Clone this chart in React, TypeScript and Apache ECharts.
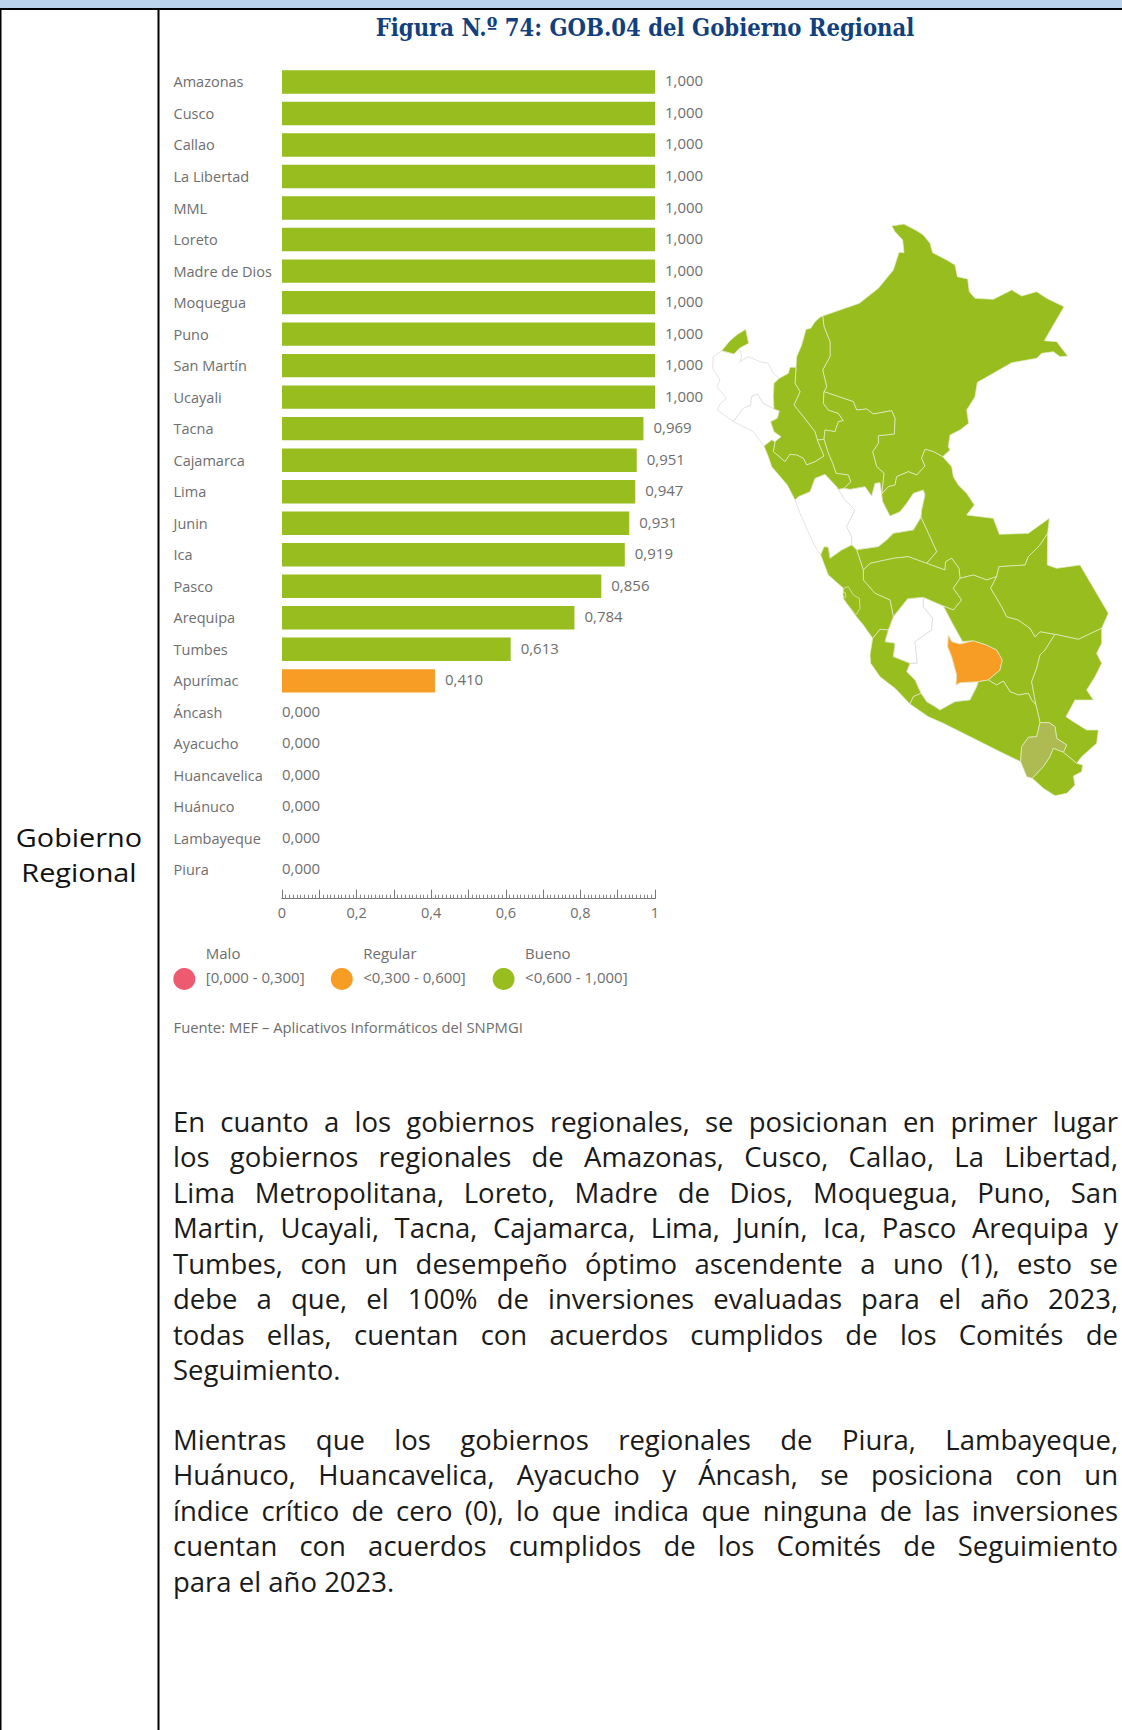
import React, { useEffect, useRef } from "react";
import * as echarts from "echarts";

const categories = ["Amazonas","Cusco","Callao","La Libertad","MML","Loreto","Madre de Dios","Moquegua","Puno","San Martín","Ucayali","Tacna","Cajamarca","Lima","Junin","Ica","Pasco","Arequipa","Tumbes","Apurímac","Áncash","Ayacucho","Huancavelica","Huánuco","Lambayeque","Piura"];
const values = [1,1,1,1,1,1,1,1,1,1,1,0.969,0.951,0.947,0.931,0.919,0.856,0.784,0.613,0.41,0,0,0,0,0,0];
const xTickLabels = ["0","0,2","0,4","0,6","0,8","1"];
const legendTitles = ["Malo","Regular","Bueno"];
const legendRanges = ["[0,000 - 0,300]","<0,300 - 0,600]","<0,600 - 1,000]"];
const legendColors = ["#ee5a6f","#f79d25","#98bd1e"];
const titleText = "Figura N.º 74: GOB.04 del Gobierno Regional";
const sourceText = "Fuente: MEF – Aplicativos Informáticos del SNPMGI";
const sideLabel = "Gobierno\nRegional";
const paragraphOne = [
  "En cuanto a los gobiernos regionales, se posicionan en primer lugar",
  "los gobiernos regionales de Amazonas, Cusco, Callao, La Libertad,",
  "Lima Metropolitana, Loreto, Madre de Dios, Moquegua, Puno, San",
  "Martin, Ucayali, Tacna, Cajamarca, Lima, Junín, Ica, Pasco Arequipa y",
  "Tumbes, con un desempeño óptimo ascendente a uno (1), esto se",
  "debe a que, el 100% de inversiones evaluadas para el año 2023,",
  "todas ellas, cuentan con acuerdos cumplidos de los Comités de",
  "Seguimiento.",
];
const paragraphTwo = [
  "Mientras que los gobiernos regionales de Piura, Lambayeque,",
  "Huánuco, Huancavelica, Ayacucho y Áncash, se posiciona con un",
  "índice crítico de cero (0), lo que indica que ninguna de las inversiones",
  "cuentan con acuerdos cumplidos de los Comités de Seguimiento",
  "para el año 2023.",
];

// Region outlines in map units (x, y down).
const regionOutlines: Record<string, number[][]> = {
  "Piura": [[65,422],[102,432],[118,415],[125,440],[120,455],[145,440],[180,455],[205,460],[220,490],[238,505],[222,520],[220,560],[222,597],[190,580],[172,552],[155,560],[152,585],[130,595],[100,635],[52,600],[60,582],[80,565],[50,530],[60,510],[38,475],[40,440]],
  "Lambayeque": [[100,635],[130,595],[152,585],[155,560],[172,552],[190,580],[222,597],[238,603],[232,625],[212,635],[222,665],[243,680],[225,695],[215,690],[192,708],[160,665]],
  "Áncash": [[285,870],[295,860],[330,845],[345,805],[375,793],[410,830],[415,838],[435,870],[465,900],[440,950],[455,980],[455,1005],[425,1020],[390,1045],[385,1012],[372,1010],[362,1035],[340,1000],[300,910]],
  "Huánuco": [[415,838],[432,835],[450,838],[495,830],[515,858],[525,820],[540,818],[545,852],[548,875],[570,918],[600,905],[620,880],[640,850],[670,840],[675,855],[665,900],[663,922],[640,960],[580,970],[560,990],[535,1010],[465,1020],[455,1005],[455,980],[440,950],[465,900],[435,870]],
  "Huancavelica": [[580,1220],[623,1166],[670,1162],[670,1190],[698,1225],[695,1260],[645,1295],[652,1360],[630,1360],[580,1340],[585,1300],[555,1295],[565,1260]],
  "Ayacucho": [[670,1162],[730,1188],[760,1245],[788,1295],[780,1302],[755,1295],[745,1275],[743,1310],[755,1340],[770,1395],[768,1425],[780,1418],[835,1415],[830,1430],[810,1470],[765,1475],[720,1500],[705,1490],[680,1475],[663,1450],[645,1410],[620,1385],[630,1360],[652,1360],[645,1295],[695,1260],[698,1225],[670,1190]],
  "Tumbes": [[65,422],[90,392],[110,375],[137,358],[146,400],[118,415],[102,432]],
  "Loreto": [[368,318],[478,280],[535,235],[580,180],[597,127],[612,128],[608,90],[585,65],[575,48],[612,42],[650,62],[670,75],[690,100],[698,128],[740,150],[765,165],[772,200],[803,207],[808,245],[825,265],[880,268],[935,240],[965,258],[1010,245],[1040,265],[1092,290],[1033,392],[1070,395],[1103,438],[1080,440],[1060,425],[1025,430],[1010,445],[935,458],[880,490],[832,517],[825,560],[800,600],[806,640],[780,660],[750,675],[745,710],[750,720],[728,740],[700,725],[675,718],[665,745],[675,768],[650,795],[625,785],[590,800],[585,825],[565,830],[545,852],[552,790],[530,770],[518,725],[535,700],[535,677],[583,672],[585,625],[575,602],[520,612],[500,597],[470,600],[460,575],[372,545],[380,530],[368,480],[390,440],[390,395],[372,350]],
  "Amazonas": [[368,318],[372,350],[390,395],[390,440],[368,480],[380,530],[372,545],[370,580],[385,600],[415,610],[430,632],[415,635],[405,665],[375,660],[372,688],[352,690],[345,665],[310,620],[282,585],[300,545],[285,520],[288,472],[290,440],[305,405],[318,358],[332,355],[345,335],[360,322]],
  "Cajamarca": [[238,505],[265,490],[270,472],[288,472],[285,520],[300,545],[282,585],[310,620],[345,665],[352,690],[372,738],[345,755],[320,765],[310,745],[290,735],[270,733],[255,755],[220,725],[225,695],[243,680],[222,665],[212,635],[232,625],[238,603],[222,597],[220,560],[222,520]],
  "San Martín": [[372,545],[460,575],[470,600],[500,597],[520,612],[575,602],[585,625],[583,672],[535,677],[535,700],[518,725],[530,770],[552,790],[545,852],[540,818],[525,820],[515,858],[495,830],[450,838],[432,835],[452,815],[445,795],[408,790],[398,760],[385,730],[372,688],[375,660],[405,665],[415,635],[430,632],[415,610],[385,600],[370,580]],
  "La Libertad": [[192,708],[215,690],[225,695],[220,725],[255,755],[270,733],[290,735],[310,745],[320,765],[345,755],[372,738],[352,690],[372,688],[385,730],[398,760],[408,790],[445,795],[452,815],[432,835],[415,838],[410,830],[375,793],[345,805],[330,845],[295,860],[285,870],[262,825],[215,770],[205,740]],
  "Ucayali": [[545,852],[565,830],[585,825],[590,800],[625,785],[650,795],[675,768],[665,745],[675,718],[700,725],[728,740],[755,770],[760,800],[775,825],[800,850],[823,885],[800,915],[880,925],[898,973],[985,970],[1048,925],[1043,970],[1020,1005],[985,1040],[975,1065],[897,1070],[890,1100],[860,1110],[820,1095],[780,1105],[777,1075],[755,1045],[737,1055],[735,1080],[680,1060],[710,1025],[685,970],[663,922],[665,900],[675,855],[670,840],[640,850],[620,880],[600,905],[570,918],[548,875]],
  "Pasco": [[455,1005],[465,1020],[535,1010],[560,990],[580,970],[640,960],[663,922],[685,970],[710,1025],[680,1060],[625,1040],[580,1045],[510,1060],[490,1080],[470,1020]],
  "Junin": [[490,1080],[510,1060],[580,1045],[625,1040],[680,1060],[735,1080],[737,1055],[755,1045],[777,1075],[780,1105],[760,1135],[785,1170],[760,1200],[730,1188],[670,1162],[623,1166],[580,1220],[570,1170],[525,1150],[490,1110]],
  "Lima": [[362,1035],[385,1095],[430,1135],[430,1165],[465,1215],[490,1245],[518,1285],[540,1258],[565,1260],[580,1220],[570,1170],[525,1150],[490,1110],[490,1080],[470,1020],[455,1005],[425,1020],[390,1045],[385,1012],[372,1010]],
  "MML": [[430,1135],[445,1130],[460,1155],[478,1165],[480,1195],[468,1215],[440,1180],[430,1165]],
  "Callao": [[428,1150],[436,1148],[438,1160],[432,1164]],
  "Ica": [[518,1285],[510,1335],[512,1360],[540,1400],[585,1435],[630,1482],[640,1460],[663,1450],[645,1410],[620,1385],[630,1360],[580,1340],[585,1300],[555,1295],[565,1260],[540,1258]],
  "Apurímac": [[745,1275],[755,1295],[780,1302],[820,1292],[860,1305],[890,1320],[907,1350],[900,1380],[865,1410],[835,1415],[780,1418],[768,1425],[770,1395],[755,1340],[743,1310]],
  "Cusco": [[780,1105],[820,1095],[860,1110],[890,1100],[872,1135],[905,1190],[920,1220],[955,1230],[990,1255],[1005,1280],[1020,1265],[1065,1273],[1035,1320],[1020,1335],[1010,1375],[995,1415],[1008,1485],[995,1470],[985,1450],[955,1455],[930,1445],[910,1413],[890,1425],[865,1410],[900,1380],[907,1350],[890,1320],[860,1305],[820,1292],[788,1295],[760,1245],[730,1188],[760,1200],[785,1170],[760,1135]],
  "Madre de Dios": [[1043,970],[1042,1065],[1070,1075],[1140,1065],[1225,1210],[1205,1255],[1135,1288],[1065,1273],[1020,1265],[1005,1280],[990,1255],[955,1230],[920,1220],[905,1190],[872,1135],[890,1100],[897,1070],[975,1065],[985,1040],[1020,1005]],
  "Puno": [[1065,1273],[1135,1288],[1205,1255],[1205,1300],[1190,1330],[1205,1360],[1185,1400],[1160,1440],[1180,1470],[1125,1470],[1098,1520],[1120,1535],[1160,1560],[1195,1560],[1190,1600],[1145,1640],[1130,1660],[1090,1627],[1100,1605],[1070,1585],[1065,1550],[1048,1538],[1020,1538],[1008,1485],[995,1415],[1010,1375],[1020,1335],[1035,1320]],
  "Arequipa": [[630,1482],[640,1460],[663,1450],[680,1475],[705,1490],[720,1500],[765,1475],[810,1470],[830,1430],[835,1415],[865,1410],[890,1425],[910,1413],[930,1445],[955,1455],[985,1450],[995,1470],[1008,1485],[1020,1538],[1010,1580],[985,1582],[965,1610],[962,1655],[900,1625],[820,1585],[730,1540],[685,1520]],
  "Moquegua": [[1020,1538],[1048,1538],[1065,1550],[1070,1585],[1100,1605],[1090,1627],[1060,1615],[1050,1640],[1030,1670],[997,1705],[980,1700],[962,1655],[965,1610],[985,1582],[1010,1580]],
  "Tacna": [[997,1705],[1030,1670],[1050,1640],[1060,1615],[1090,1627],[1130,1660],[1148,1665],[1145,1685],[1120,1698],[1125,1725],[1100,1750],[1065,1757],[1030,1735]],
};

const BODY_FONT = "'Open Sans', sans-serif";
const LABEL_COLOR = "#6e6e6e";
const fmt = (v: number) => v.toFixed(3).replace(".", ",");
const barColor = (v: number) => (v > 0.6 ? legendColors[2] : v > 0.3 ? legendColors[1] : legendColors[0]);
const mapColor = (name: string, v: number) => (name === "Moquegua" ? "#adbb52" : v === 0 ? "#ffffff" : barColor(v));

function buildGeo() {
  return {
    type: "FeatureCollection",
    features: Object.entries(regionOutlines).map(([name, pts]) => ({
      type: "Feature",
      properties: { name },
      geometry: { type: "Polygon", coordinates: [[...pts, pts[0]].map(([x, y]) => [x, -y])] },
    })),
  };
}

const TEXT_LEFT = 173;
const TEXT_RIGHT = 1118;
const BODY_SIZE = 27.5;

export default function App() {
  const ref = useRef<HTMLDivElement>(null);
  useEffect(() => {
    const chart = echarts.init(ref.current!, undefined, { renderer: "svg" });
    echarts.registerMap("peru", buildGeo() as any);

    const allPts = Object.values(regionOutlines).flat();
    const xs = allPts.map((p) => p[0]);
    const ys = allPts.map((p) => p[1]);
    const minX = Math.min(...xs), maxX = Math.max(...xs), minY = Math.min(...ys), maxY = Math.max(...ys);

    const bodyGraphics: any[] = [];
    const addLines = (lines: string[], y0: number) =>
      lines.forEach((t, i) =>
        bodyGraphics.push({
          type: "text",
          style: { text: t, x: TEXT_LEFT, y: y0 + i * 35.45, font: `${BODY_SIZE}px ${BODY_FONT}`, fill: "#1a1a1a", textAlign: "left", textVerticalAlign: "middle" },
        })
      );
    addLines(paragraphOne, 1121.5);
    addLines(paragraphTwo, 1439.5);

    const legendX = [184.3, 341.8, 503.6];
    const legendGraphics = legendTitles.flatMap((t, i) => [
      { type: "circle", shape: { cx: legendX[i], cy: 979, r: 11 }, style: { fill: legendColors[i] } },
      { type: "text", style: { text: t, x: legendX[i] + 21.5, y: 952.5, font: `15px ${BODY_FONT}`, fill: LABEL_COLOR, textAlign: "left", textVerticalAlign: "middle" } },
      { type: "text", style: { text: legendRanges[i], x: legendX[i] + 21.5, y: 976.5, font: `15px ${BODY_FONT}`, fill: LABEL_COLOR, textAlign: "left", textVerticalAlign: "middle" } },
    ]);

    chart.setOption({
      animation: false,
      backgroundColor: "#ffffff",
      grid: { left: 282, width: 373, top: 66.2, height: 819.5, containLabel: false },
      xAxis: {
        type: "value", min: 0, max: 1, interval: 0.1, offset: 13,
        splitLine: { show: false },
        axisLine: { show: true, lineStyle: { color: "#777777", width: 1 } },
        axisTick: { show: true, inside: true, length: 9, lineStyle: { color: "#777777" } },
        minorTick: { show: true, splitNumber: 10, length: 4, lineStyle: { color: "#888888" } },
        axisLabel: {
          margin: 6, color: LABEL_COLOR, fontFamily: BODY_FONT, fontSize: 14.5, showMinLabel: true, showMaxLabel: true,
          formatter: (v: number) => {
            const k = Math.round(v * 10);
            return k % 2 === 0 ? xTickLabels[k / 2] : "";
          },
        },
      },
      yAxis: {
        type: "category", inverse: true, data: categories,
        axisLine: { show: false }, axisTick: { show: false },
        axisLabel: { align: "left", margin: 108.5, color: LABEL_COLOR, fontFamily: BODY_FONT, fontSize: 14.5, interval: 0, padding: [0, 0, 2, 0] },
      },
      series: [
        {
          type: "bar", barWidth: 23.4,
          data: values.map((v) => ({
            value: v,
            itemStyle: { color: barColor(v) },
            label: { distance: v === 0 ? 0 : 10 },
          })),
          label: { show: true, position: "right", offset: [0, -1.5], formatter: (p: any) => fmt(p.value), color: LABEL_COLOR, fontFamily: BODY_FONT, fontSize: 15 },
          silent: true,
        },
        {
          type: "map", map: "peru", roam: false, silent: true, aspectScale: 1,
          left: 700 + minX / 3, top: 210 + minY / 3, width: (maxX - minX) / 3, height: (maxY - minY) / 3,
          label: { show: false }, emphasis: { disabled: true }, select: { disabled: true },
          data: categories.map((name, i) => ({
            name, value: values[i],
            itemStyle: {
              areaColor: mapColor(name, values[i]),
              borderColor: values[i] === 0 ? "#d8d8d8" : "#e6edcb",
              borderWidth: 0.7,
            },
          })),
        },
      ],
      graphic: [
        { type: "rect", shape: { x: 0, y: 0, width: 1122, height: 8 }, style: { fill: "#bdd5ec" } },
        { type: "rect", shape: { x: 0, y: 8, width: 1122, height: 2 }, style: { fill: "#000000" } },
        { type: "rect", shape: { x: 0, y: 8, width: 1.5, height: 1722 }, style: { fill: "#000000" } },
        { type: "rect", shape: { x: 157.5, y: 8, width: 2, height: 1722 }, style: { fill: "#000000" } },
        { type: "text", x: 645, y: 27, scaleX: 0.944, style: { text: titleText, x: 0, y: 0, font: "bold 25px 'DejaVu Serif Condensed', serif", fill: "#123f7d", textAlign: "center", textVerticalAlign: "middle" } },
        { type: "text", x: 79, y: 854.5, scaleX: 1.11, style: { text: sideLabel, x: 0, y: 0, font: `26px ${BODY_FONT}`, lineHeight: 35, fill: "#111111", textAlign: "center", textVerticalAlign: "middle" } },
        ...legendGraphics,
        { type: "text", style: { text: sourceText, x: 173.5, y: 1027, font: `14.8px ${BODY_FONT}`, fill: LABEL_COLOR, textAlign: "left", textVerticalAlign: "middle" } },
        ...bodyGraphics,
      ],
    });

    // Justify the paragraph lines, as in the reference, by widening their word gaps.
    const ctx = document.createElement("canvas").getContext("2d")!;
    ctx.font = `${BODY_SIZE}px 'Open Sans', sans-serif`;
    const justified = new Set([...paragraphOne.slice(0, -1), ...paragraphTwo.slice(0, -1)]);
    ref.current!.querySelectorAll("text").forEach((el) => {
      const t = el.textContent || "";
      if (justified.has(t)) {
        const gaps = t.split(" ").length - 1;
        const extra = (TEXT_RIGHT - TEXT_LEFT - ctx.measureText(t).width) / gaps;
        (el as SVGTextElement).style.wordSpacing = `${extra}px`;
      }
    });

    return () => chart.dispose();
  }, []);
  return <div ref={ref} style={{ position: "absolute", left: 0, top: 0, width: 1122, height: 1730 }} />;
}
